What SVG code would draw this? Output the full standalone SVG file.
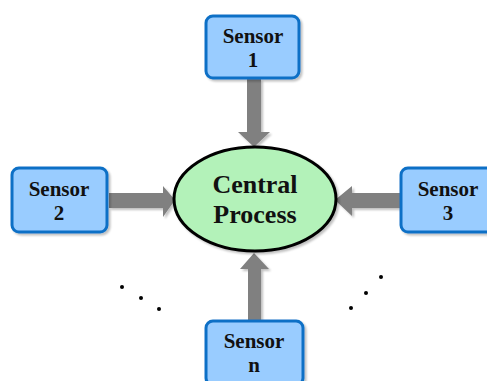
<svg xmlns="http://www.w3.org/2000/svg" width="487" height="381" viewBox="0 0 487 381">
<defs>
<filter id="sh" x="-20%" y="-20%" width="140%" height="140%">
<feGaussianBlur in="SourceAlpha" stdDeviation="1.2"/>
<feOffset dx="2" dy="2" result="b"/>
<feComponentTransfer><feFuncA type="linear" slope="0.25"/></feComponentTransfer>
<feMerge><feMergeNode/><feMergeNode in="SourceGraphic"/></feMerge>
</filter>
</defs>
<style>
.box{fill:#99CCFF;stroke:#0F6FC6;stroke-width:3;filter:url(#sh)}
.lbl{font-family:"Liberation Serif","Times New Roman",serif;font-weight:bold;font-size:21px;fill:#111;text-anchor:middle}
.big{font-size:26px}
.arr{fill:#808080;filter:url(#sh)}
.dot{fill:#000}
</style>
<g id="connectors">
<polygon class="arr" points="247,79 261,79 261,132 270,132 254,147 238,132 247,132"/>
<polygon class="arr" points="109,193 109,208 163,208 163,217 175,200 163,186 163,193"/>
<polygon class="arr" points="400,193 400,208 352,208 352,216 335,200 352,186 352,193"/>
<polygon class="arr" points="248,321 261,321 261,269 269,269 254,253 240,269 248,269"/>
</g>
<g id="central">
<ellipse cx="255" cy="199" rx="81" ry="52" fill="#B3F2B9" stroke="#000" stroke-width="3" filter="url(#sh)"/>
<text class="lbl big" x="255" y="193">Central</text>
<text class="lbl big" x="255" y="223">Process</text>
</g>
<g id="sensor1">
<rect class="box" x="206" y="16" width="93" height="62" rx="7"/>
<text class="lbl" x="253" y="43">Sensor</text>
<text class="lbl" x="253" y="67">1</text>
</g>
<g id="sensor2">
<rect class="box" x="12" y="168" width="95" height="64" rx="7"/>
<text class="lbl" x="59" y="196">Sensor</text>
<text class="lbl" x="59" y="220">2</text>
</g>
<g id="sensor3">
<rect class="box" x="401" y="168" width="95" height="64" rx="7"/>
<text class="lbl" x="448" y="196">Sensor</text>
<text class="lbl" x="448" y="220">3</text>
</g>
<g id="sensorn">
<rect class="box" x="206" y="321" width="97" height="64" rx="7"/>
<text class="lbl" x="254" y="348">Sensor</text>
<text class="lbl" x="254" y="372">n</text>
</g>
<g id="dots">
<circle class="dot" cx="122" cy="287" r="2"/>
<circle class="dot" cx="141" cy="298" r="2"/>
<circle class="dot" cx="159" cy="309" r="2"/>
<circle class="dot" cx="351" cy="308" r="2"/>
<circle class="dot" cx="366" cy="293" r="2"/>
<circle class="dot" cx="381" cy="277" r="2"/>
</g>
</svg>
